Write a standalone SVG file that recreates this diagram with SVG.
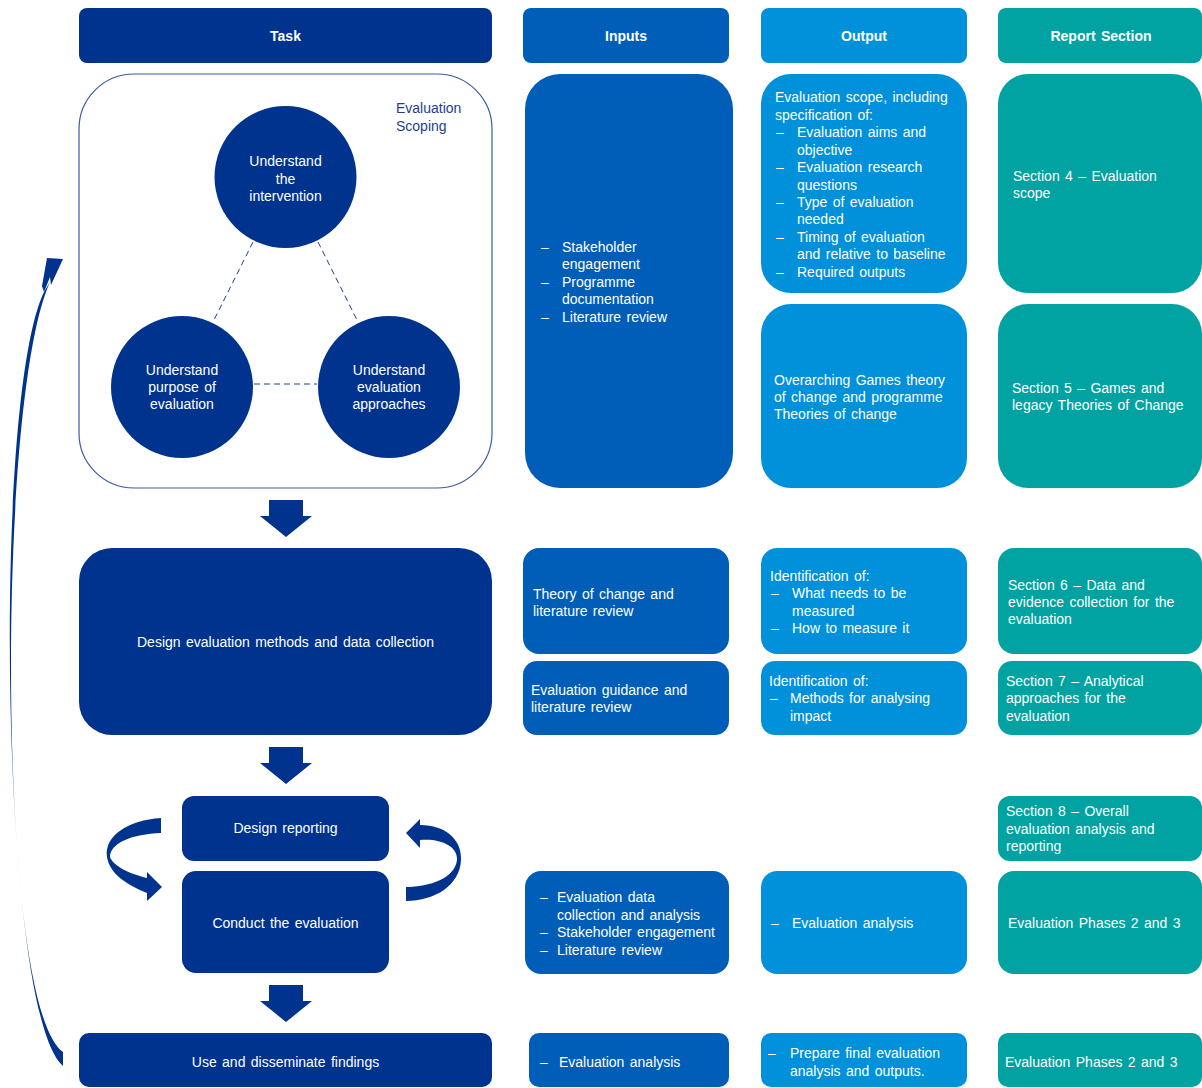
<svg xmlns="http://www.w3.org/2000/svg" width="1202" height="1088" viewBox="0 0 1202 1088">
<defs>
<style>
text{font-family:"Liberation Sans",Arial,sans-serif;font-size:14px;fill:#ffffff;word-spacing:1.5px}
.hd{font-weight:bold;text-anchor:middle}
.c{text-anchor:middle}
.task{fill:#00338D}
.inp{fill:#005EB8}
.out{fill:#0091DA}
.rep{fill:#00A3A1}
.lbl{fill:#1F3E8F}
.dash{stroke:#1F3E8F;stroke-width:1;stroke-dasharray:6 4;fill:none}
.arr{fill:#00338D}
</style>
<path id="blk" d="M-17,0 H17 V16 H26 L0,37 L-26,16 H-17 Z"/>
</defs>

<!-- headers -->
<g id="h-task"><rect class="task" x="79" y="8" width="413" height="55" rx="8"/><text class="hd" x="285.5" y="41">Task</text></g>
<g id="h-inputs"><rect class="inp" x="523" y="8" width="206" height="55" rx="8"/><text class="hd" x="626" y="41">Inputs</text></g>
<g id="h-output"><rect class="out" x="761" y="8" width="206" height="55" rx="8"/><text class="hd" x="864" y="41">Output</text></g>
<g id="h-report"><rect class="rep" x="998" y="8" width="204" height="55" rx="8"/><text class="hd" x="1101" y="41">Report Section</text></g>

<!-- scoping -->
<g id="scoping">
<rect x="79" y="74" width="413" height="414" rx="55" fill="#ffffff" stroke="#3A5BA8" stroke-width="1.2"/>
<text class="lbl" x="396" y="113">Evaluation</text>
<text class="lbl" x="396" y="131">Scoping</text>
<line class="dash" x1="253" y1="242" x2="213" y2="322"/>
<line class="dash" x1="318" y1="242" x2="358" y2="322"/>
<line class="dash" x1="254" y1="384" x2="317" y2="384"/>
</g>
<g id="c-intervention"><circle class="task" cx="285.5" cy="177" r="71"/>
<text class="c" x="285.5" y="166">Understand</text><text class="c" x="285.5" y="184">the</text><text class="c" x="285.5" y="201">intervention</text></g>
<g id="c-purpose"><circle class="task" cx="182" cy="387" r="71"/>
<text class="c" x="182" y="375">Understand</text><text class="c" x="182" y="392">purpose of</text><text class="c" x="182" y="409">evaluation</text></g>
<g id="c-approaches"><circle class="task" cx="389" cy="387" r="71"/>
<text class="c" x="389" y="375">Understand</text><text class="c" x="389" y="392">evaluation</text><text class="c" x="389" y="409">approaches</text></g>

<g id="in-1"><rect class="inp" x="525" y="74" width="208" height="414" rx="35"/>
<text x="541" y="252">–</text><text x="562" y="252">Stakeholder</text><text x="562" y="269">engagement</text>
<text x="541" y="287">–</text><text x="562" y="287">Programme</text><text x="562" y="304">documentation</text>
<text x="541" y="322">–</text><text x="562" y="322">Literature review</text></g>

<g id="out-1"><rect class="out" x="761" y="74" width="206" height="219" rx="30"/>
<text x="775" y="102">Evaluation scope, including</text><text x="775" y="120">specification of:</text>
<text x="776" y="137">–</text><text x="797" y="137">Evaluation aims and</text><text x="797" y="155">objective</text>
<text x="776" y="172">–</text><text x="797" y="172">Evaluation research</text><text x="797" y="190">questions</text>
<text x="776" y="207">–</text><text x="797" y="207">Type of evaluation</text><text x="797" y="224">needed</text>
<text x="776" y="242">–</text><text x="797" y="242">Timing of evaluation</text><text x="797" y="259">and relative to baseline</text>
<text x="776" y="277">–</text><text x="797" y="277">Required outputs</text></g>

<g id="rep-1"><rect class="rep" x="998" y="74" width="204" height="219" rx="30"/>
<text x="1013" y="181">Section 4 – Evaluation</text><text x="1013" y="198">scope</text></g>

<g id="out-2"><rect class="out" x="761" y="304" width="206" height="184" rx="30"/>
<text x="774" y="385">Overarching Games theory</text><text x="774" y="402">of change and programme</text><text x="774" y="419">Theories of change</text></g>

<g id="rep-2"><rect class="rep" x="998" y="304" width="204" height="184" rx="30"/>
<text x="1012" y="393">Section 5 – Games and</text><text x="1012" y="410">legacy Theories of Change</text></g>

<!-- row 2 -->
<g id="design-methods"><rect class="task" x="79" y="548" width="413" height="187" rx="33"/>
<text class="c" x="285.5" y="647">Design evaluation methods and data collection</text></g>

<g id="in-2a"><rect class="inp" x="523" y="548" width="206" height="106" rx="16"/>
<text x="533" y="599">Theory of change and</text><text x="533" y="616">literature review</text></g>
<g id="in-2b"><rect class="inp" x="523" y="661" width="206" height="74" rx="14"/>
<text x="531" y="695">Evaluation guidance and</text><text x="531" y="712">literature review</text></g>

<g id="out-2a"><rect class="out" x="761" y="548" width="206" height="106" rx="16"/>
<text x="770" y="581">Identification of:</text>
<text x="771" y="598">–</text><text x="792" y="598">What needs to be</text><text x="792" y="616">measured</text>
<text x="771" y="633">–</text><text x="792" y="633">How to measure it</text></g>
<g id="out-2b"><rect class="out" x="761" y="661" width="206" height="74" rx="14"/>
<text x="769" y="686">Identification of:</text>
<text x="770" y="703">–</text><text x="790" y="703">Methods for analysing</text><text x="790" y="721">impact</text></g>

<g id="rep-2a"><rect class="rep" x="998" y="548" width="204" height="106" rx="16"/>
<text x="1008" y="590">Section 6 – Data and</text><text x="1008" y="607">evidence collection for the</text><text x="1008" y="624">evaluation</text></g>
<g id="rep-2b"><rect class="rep" x="998" y="661" width="204" height="74" rx="14"/>
<text x="1006" y="686">Section 7 – Analytical</text><text x="1006" y="703">approaches for the</text><text x="1006" y="721">evaluation</text></g>

<!-- row 3 -->
<g id="design-reporting"><rect class="task" x="182" y="796" width="207" height="65" rx="12"/>
<text class="c" x="285.5" y="833">Design reporting</text></g>
<g id="conduct"><rect class="task" x="182" y="871" width="207" height="102" rx="14"/>
<text class="c" x="285.5" y="928">Conduct the evaluation</text></g>

<g id="rep-3a"><rect class="rep" x="998" y="796" width="204" height="65" rx="12"/>
<text x="1006" y="816">Section 8 – Overall</text><text x="1006" y="834">evaluation analysis and</text><text x="1006" y="851">reporting</text></g>

<g id="in-3"><rect class="inp" x="525" y="871" width="204" height="103" rx="16"/>
<text x="540" y="902">–</text><text x="557" y="902">Evaluation data</text><text x="557" y="920">collection and analysis</text>
<text x="540" y="937">–</text><text x="557" y="937">Stakeholder engagement</text>
<text x="540" y="955">–</text><text x="557" y="955">Literature review</text></g>
<g id="out-3"><rect class="out" x="761" y="871" width="206" height="103" rx="16"/>
<text x="771" y="928">–</text><text x="792" y="928">Evaluation analysis</text></g>
<g id="rep-3b"><rect class="rep" x="998" y="871" width="204" height="103" rx="16"/>
<text x="1008" y="928">Evaluation Phases 2 and 3</text></g>

<!-- row 4 -->
<g id="use-findings"><rect class="task" x="79" y="1033" width="413" height="54" rx="10"/>
<text class="c" x="285.5" y="1067">Use and disseminate findings</text></g>
<g id="in-4"><rect class="inp" x="529" y="1033" width="200" height="54" rx="10"/>
<text x="540" y="1067">–</text><text x="559" y="1067">Evaluation analysis</text></g>
<g id="out-4"><rect class="out" x="761" y="1033" width="206" height="54" rx="10"/>
<text x="768" y="1058">–</text><text x="790" y="1058">Prepare final evaluation</text><text x="790" y="1076">analysis and outputs.</text></g>
<g id="rep-4"><rect class="rep" x="998" y="1033" width="204" height="54" rx="10"/>
<text x="1005" y="1067">Evaluation Phases 2 and 3</text></g>

<!-- connectors -->
<g id="connectors">
<use href="#blk" class="arr" x="286" y="500"/>
<use href="#blk" class="arr" x="286" y="747"/>
<use href="#blk" class="arr" x="286" y="985"/>
<path class="arr" d="M161,818 C128,820 104,836 107,857 C110,875 128,885 147,893 L147,901 L162,887 L147,872 L147,878 C130,874 113,866 110,857 C110,843 132,834 161,833 Z"/>
<path class="arr" d="M406,887 C430,887 455,878 457,860 C458,846 440,838 420,840 L420,848 L406,833 L420,819 L420,825 C446,825 462,840 461,860 C460,885 435,901 406,901 Z"/>
<path class="arr" d="M63,1066 C0,1012 -8,400 44,292 L50,282 C-4,400 -4,1005 63,1052 Z"/>
<path class="arr" d="M47,258 L63,259 L51,285 L50,277 L44,292 L42,286 Z"/>
</g>
</svg>
